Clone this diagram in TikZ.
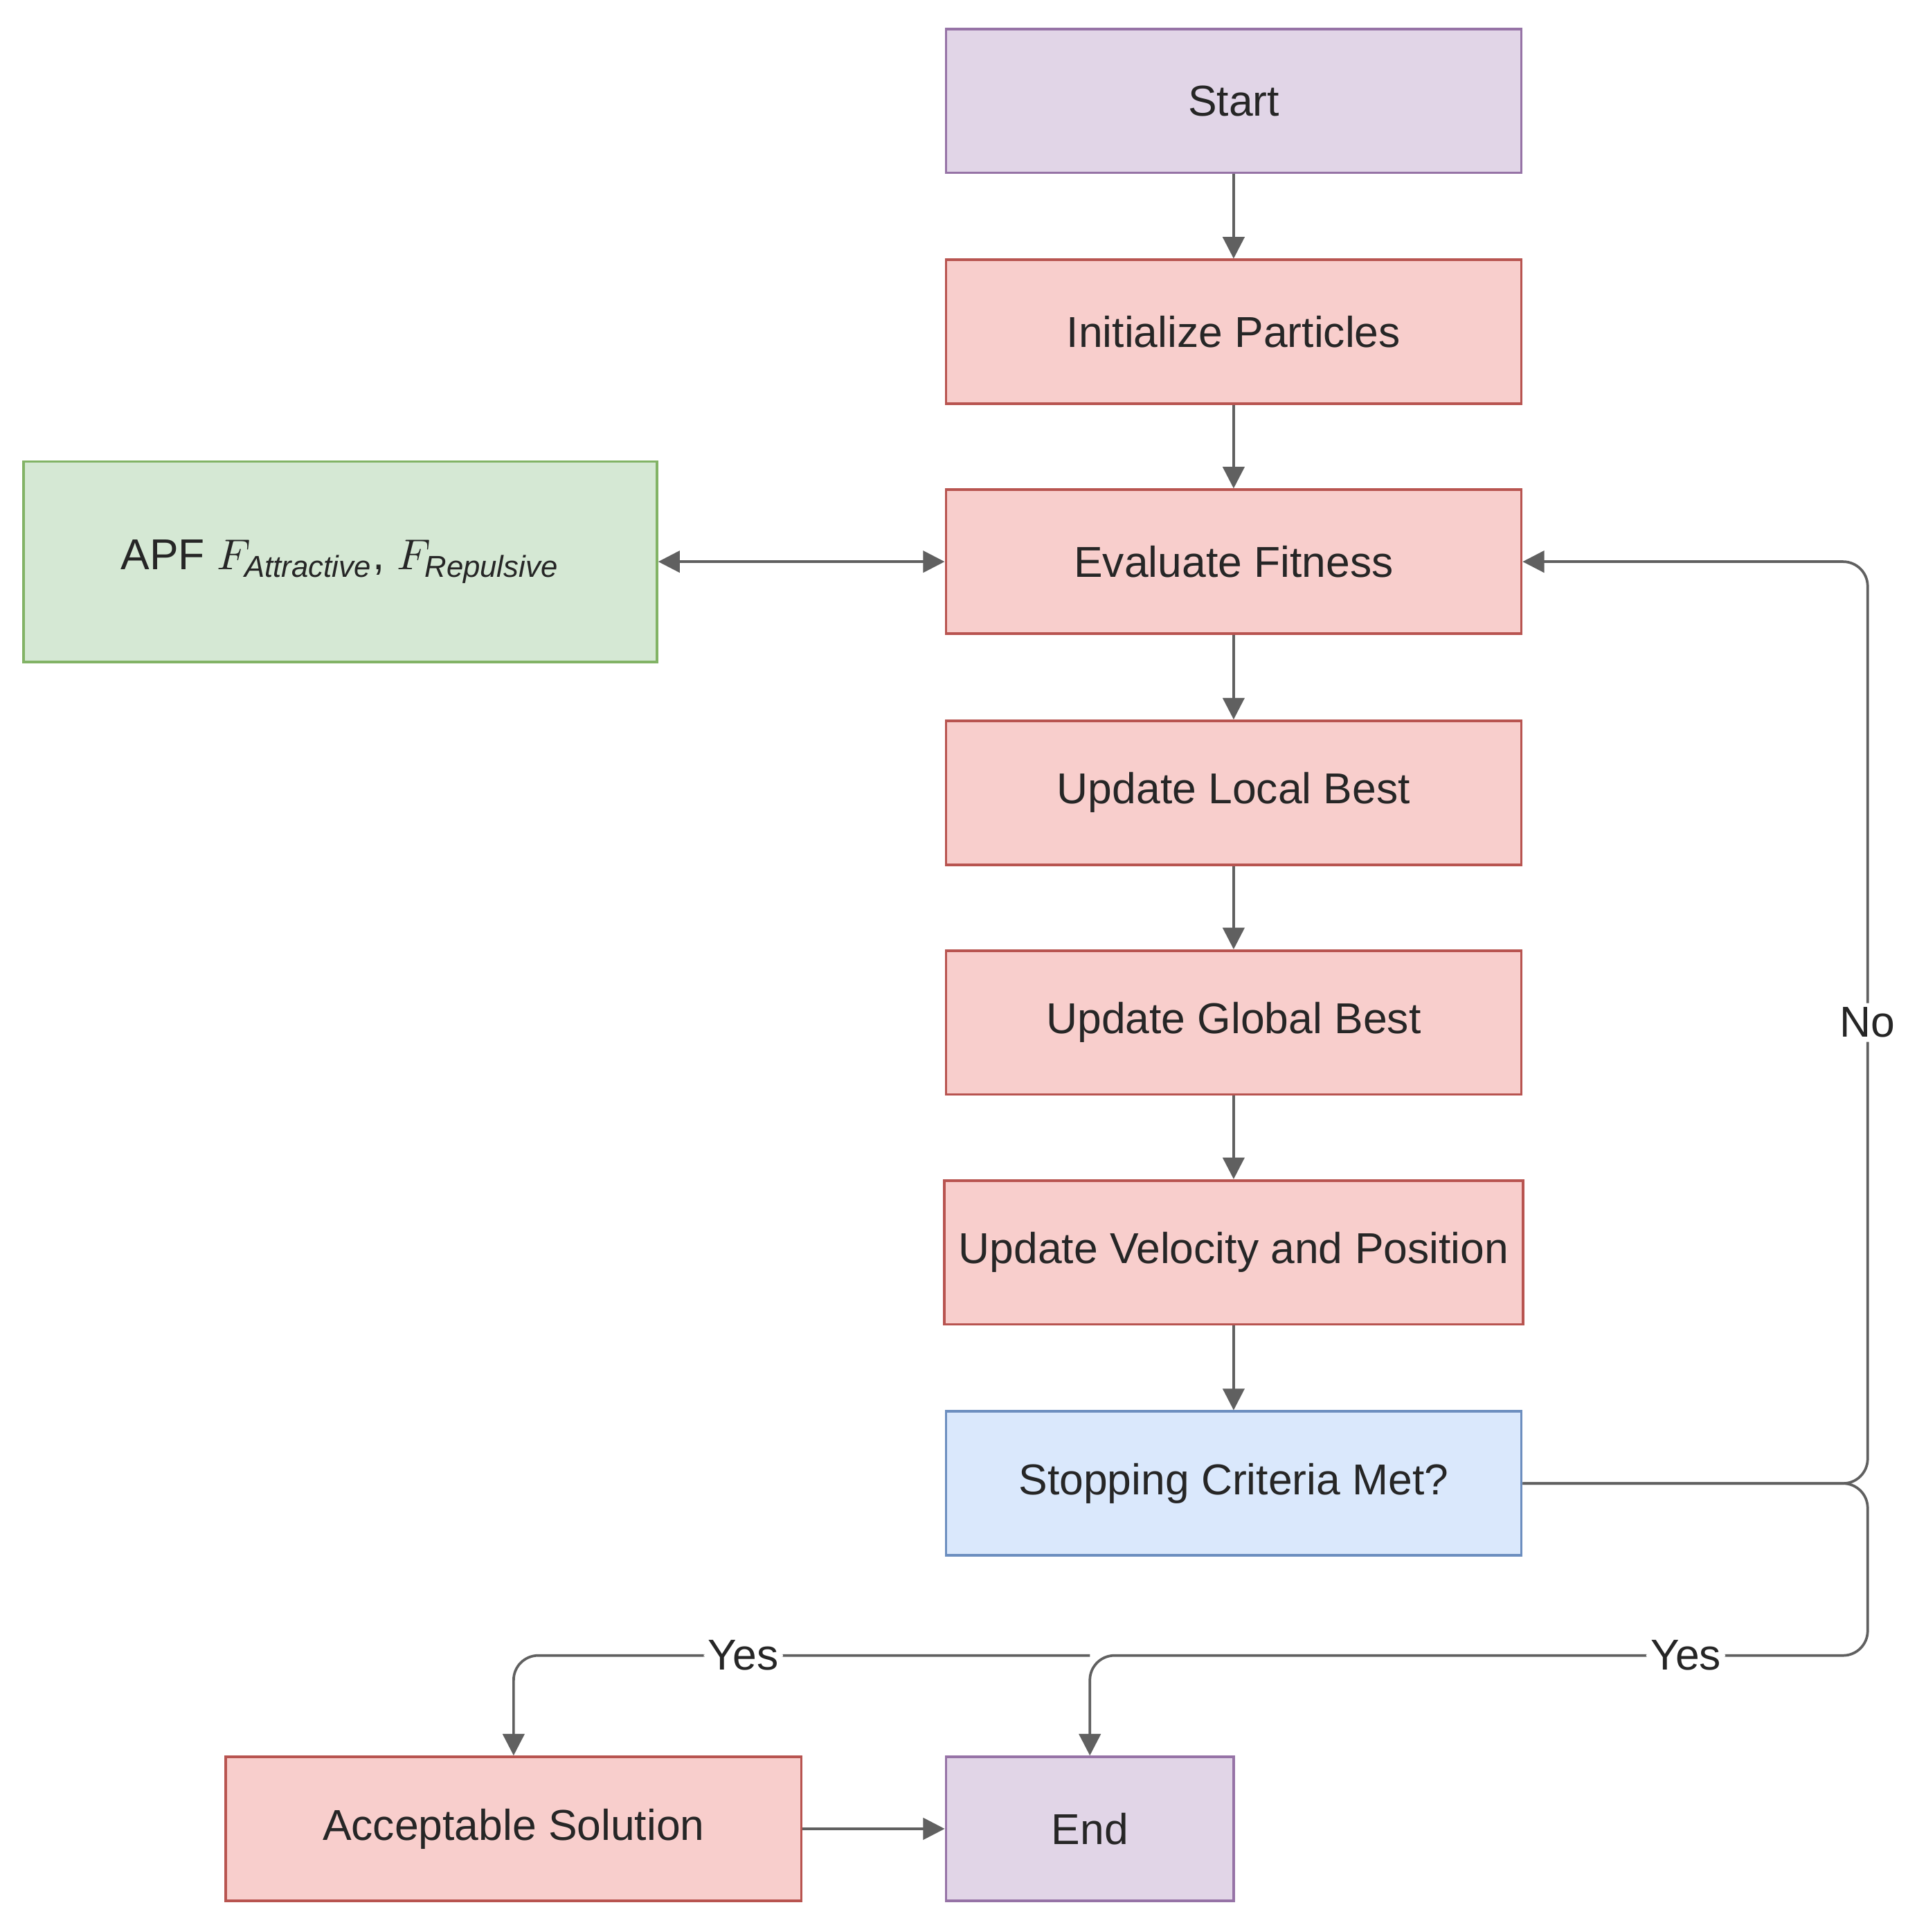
\documentclass[tikz,border=0pt]{standalone}
\usepackage{fontspec}
\setmainfont{Liberation Sans}
\usetikzlibrary{positioning, arrows.meta}
\definecolor{termfill}{HTML}{E1D5E7}
\definecolor{termdraw}{HTML}{9673A6}
\definecolor{procfill}{HTML}{F8CECC}
\definecolor{procdraw}{HTML}{B85450}
\definecolor{apffill}{HTML}{D5E8D4}
\definecolor{apfdraw}{HTML}{82B366}
\definecolor{askfill}{HTML}{DAE8FC}
\definecolor{askdraw}{HTML}{6C8EBF}
\definecolor{linecol}{HTML}{606060}

\begin{document}
\begin{tikzpicture}[
    x=0.01cm, y=-0.01cm,
    font=\fontsize{10}{12}\selectfont,
    base/.style={rectangle, draw, line width=0.6pt, minimum height=1.17cm, text centered, text=black!85},
    term/.style={base, fill=termfill, draw=termdraw, minimum width=4.68cm},
    proc/.style={base, fill=procfill, draw=procdraw, minimum width=4.68cm},
    apf/.style={base, fill=apffill, draw=apfdraw, minimum width=5.15cm, minimum height=1.63cm},
    ask/.style={base, fill=askfill, draw=askdraw, minimum width=4.68cm},
    flow/.style={draw=linecol, line width=0.6pt, -{Triangle[length=5pt, width=5pt]}, rounded corners=0.2cm},
    tag/.style={fill=white, inner sep=1pt, text=black!85}
]
\useasboundingbox (0,0) rectangle (1560,1572);
\node (Start) [term] at (1004,82) {Start};
\node (Init) [proc] at (1004,270) {Initialize Particles};
\node (Eval) [proc] at (1004,457) {Evaluate Fitness};
\node (Local) [proc] at (1004,645) {Update Local Best};
\node (Global) [proc] at (1004,832) {Update Global Best};
\node (Velo) [proc] at (1004,1019) {Update Velocity and Position};
\node (Stop) [ask] at (1004,1207) {Stopping Criteria Met?};
\node (APF) [apf] at (277,457) {APF $F_{\mathit{Attractive}}$, $F_{\mathit{Repulsive}}$};
\node (Accept) [proc] at (418,1488) {Acceptable Solution};
\node (End) [term, minimum width=2.34cm] at (887,1488) {End};

\draw [flow] (Start) -- (Init);
\draw [flow] (Init) -- (Eval);
\draw [flow] (Eval) -- (Local);
\draw [flow] (Local) -- (Global);
\draw [flow] (Global) -- (Velo);
\draw [flow] (Velo) -- (Stop);
\draw [flow, {Triangle[length=5pt, width=5pt]}-{Triangle[length=5pt, width=5pt]}] (APF) -- (Eval);
\draw [flow] (Accept) -- (End);
% loop back
\draw [flow] (Stop.east) -| (1520,832) node [tag] {No} |- (Eval.east);
% exits
\draw [flow] (Stop.east) -| (1520,1347) -- (1372,1347) node [tag] {Yes} -| (End.north);
\draw [flow] (887,1347) -- (605,1347) node [tag] {Yes} -| (Accept.north);
\end{tikzpicture}
\end{document}
